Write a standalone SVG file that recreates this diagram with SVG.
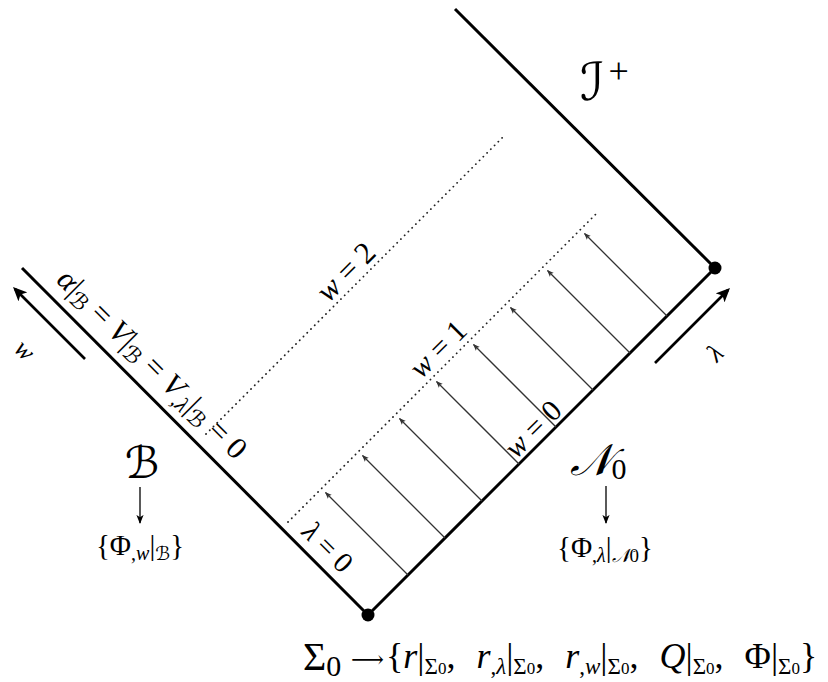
<svg xmlns="http://www.w3.org/2000/svg" width="828" height="682" viewBox="0 0 828 682">
<style>
.thick{stroke:#000;stroke-width:3;fill:none;stroke-linecap:butt}
.dot{stroke:#222;stroke-width:1.8;fill:none;stroke-linecap:round;stroke-dasharray:0.1 5.2}
.thin{stroke:#333;stroke-width:1.3;fill:none}
.med{stroke:#000;stroke-width:2.6;fill:none}
text{font-family:"Liberation Serif","DejaVu Serif",serif;fill:#000}
.i{font-style:italic}
.cal{font-family:"DejaVu Serif","DejaVu Sans",serif;font-style:italic}
</style>
<defs>
<marker id="ah" viewBox="0 0 10 10" refX="9" refY="5" markerWidth="7" markerHeight="7" markerUnits="userSpaceOnUse" orient="auto">
<path d="M0,1 L10,5 L0,9 L2.5,5 Z" fill="#333"/>
</marker>
<marker id="ahb" viewBox="0 0 10 10" refX="8" refY="5" markerWidth="14" markerHeight="14" markerUnits="userSpaceOnUse" orient="auto">
<path d="M0,0.5 L10,5 L0,9.5 L2.5,5 Z" fill="#000"/>
</marker>
<marker id="ahs" viewBox="0 0 10 10" refX="9" refY="5" markerWidth="9" markerHeight="9" markerUnits="userSpaceOnUse" orient="auto">
<path d="M0,1 L10,5 L0,9 L2.5,5 Z" fill="#000"/>
</marker>
</defs>

<g id="boundaries">
<line class="thick" x1="22" y1="268" x2="368" y2="615"/>
<line class="thick" x1="368" y1="615" x2="715" y2="268"/>
<line class="thick" x1="715" y1="268" x2="455" y2="9"/>
<circle cx="368" cy="615" r="6.5" fill="#000"/>
<circle cx="715" cy="268" r="6.5" fill="#000"/>
</g>

<g id="level-lines">
<line class="dot" x1="288" y1="522" x2="596" y2="214"/>
<line class="dot" x1="206" y1="434" x2="503" y2="137"/>
</g>

<g id="connectors">
<line class="thin" marker-end="url(#ah)" x1="408" y1="575" x2="325.5" y2="492.5"/>
<line class="thin" marker-end="url(#ah)" x1="445" y1="538" x2="362.5" y2="455.5"/>
<line class="thin" marker-end="url(#ah)" x1="482" y1="501" x2="399.5" y2="418.5"/>
<line class="thin" marker-end="url(#ah)" x1="519" y1="464" x2="436.5" y2="381.5"/>
<line class="thin" marker-end="url(#ah)" x1="556" y1="427" x2="473.5" y2="344.5"/>
<line class="thin" marker-end="url(#ah)" x1="593" y1="390" x2="510.5" y2="307.5"/>
<line class="thin" marker-end="url(#ah)" x1="630" y1="353" x2="547.5" y2="270.5"/>
<line class="thin" marker-end="url(#ah)" x1="667" y1="316" x2="584.5" y2="233.5"/>
<line class="med" marker-end="url(#ahb)" x1="85" y1="359" x2="15" y2="289"/>
<line class="med" marker-end="url(#ahb)" x1="655" y1="363" x2="728" y2="290"/>
<line class="thin" style="stroke:#000" marker-end="url(#ahs)" x1="140" y1="487" x2="140" y2="523"/>
<line class="thin" style="stroke:#000" marker-end="url(#ahs)" x1="606" y1="486" x2="606" y2="523"/>
</g>

<g id="labels">
<g transform="translate(145,371) rotate(45)">
<text font-size="31" text-anchor="middle"><tspan class="i">α</tspan>|<tspan class="cal" font-size="22" dy="5">ℬ</tspan><tspan dy="-5"> = </tspan><tspan class="i">V</tspan>|<tspan class="cal" font-size="22" dy="5">ℬ</tspan><tspan dy="-5"> = </tspan><tspan class="i">V</tspan><tspan font-size="22" dy="5">,<tspan class="i">λ</tspan></tspan><tspan dy="-5">|</tspan><tspan class="cal" font-size="22" dy="5">ℬ</tspan><tspan dy="-5"> = 0</tspan></text>
</g>
<g transform="translate(23,352) rotate(45)"><text font-size="26" class="i" text-anchor="middle" dy="6">w</text></g>
<g transform="translate(716,354) rotate(-45)"><text font-size="26" class="i" text-anchor="middle" dy="7">λ</text></g>
<g transform="translate(353,279) rotate(-45)"><text font-size="31" text-anchor="middle"><tspan class="i">w</tspan> = 2</text></g>
<g transform="translate(445,356) rotate(-45)"><text font-size="30" text-anchor="middle"><tspan class="i">w</tspan> = 1</text></g>
<g transform="translate(540,436) rotate(-45)"><text font-size="30" text-anchor="middle"><tspan class="i">w</tspan> = 0</text></g>
<g transform="translate(321,554) rotate(45)"><text font-size="29" text-anchor="middle"><tspan class="i">λ</tspan> = 0</text></g>
</g>

<g id="node-scri">
<text x="580" y="100" font-size="52" class="cal">ℐ<tspan font-style="normal" font-family="Liberation Serif" font-size="36" dx="4" dy="-17">+</tspan></text>
</g>
<g id="node-B">
<text x="142" y="478" font-size="44" class="cal" text-anchor="middle">ℬ</text>
<text x="140" y="555" font-size="29" text-anchor="middle">{Φ<tspan font-size="20" dy="5">,<tspan class="i">w</tspan></tspan><tspan dy="-5">|</tspan><tspan class="cal" font-size="19" dy="5">ℬ</tspan><tspan dy="-5">}</tspan></text>
</g>
<g id="node-N0">
<text x="598" y="475" font-size="44" class="cal" text-anchor="middle">𝒩<tspan font-style="normal" font-family="Liberation Serif" font-size="30" dy="4">0</tspan></text>
<text x="605" y="557" font-size="29" text-anchor="middle">{Φ<tspan font-size="20" dy="5">,<tspan class="i">λ</tspan></tspan><tspan dy="-5">|</tspan><tspan class="cal" font-size="19" dy="5">𝒩<tspan font-style="normal" font-family="Liberation Serif">0</tspan></tspan><tspan dy="-5">}</tspan></text>
</g>
<g id="node-Sigma0">
<text x="303" y="670" font-size="40">Σ<tspan font-size="30" dy="6">0</tspan></text>
<text x="351" y="667" font-size="23" font-family="DejaVu Sans">⟶</text>
<text x="386" y="668" font-size="36" word-spacing="12">{<tspan class="i">r</tspan>|<tspan font-size="23" dy="6">Σ<tspan font-size="17">0</tspan></tspan><tspan dy="-6">, </tspan><tspan class="i">r</tspan><tspan font-size="23" dy="6">,<tspan class="i">λ</tspan></tspan><tspan dy="-6">|</tspan><tspan font-size="23" dy="6">Σ<tspan font-size="17">0</tspan></tspan><tspan dy="-6">, </tspan><tspan class="i">r</tspan><tspan font-size="23" dy="6">,<tspan class="i">w</tspan></tspan><tspan dy="-6">|</tspan><tspan font-size="23" dy="6">Σ<tspan font-size="17">0</tspan></tspan><tspan dy="-6">, </tspan><tspan class="i">Q</tspan>|<tspan font-size="23" dy="6">Σ<tspan font-size="17">0</tspan></tspan><tspan dy="-6">, Φ|</tspan><tspan font-size="23" dy="6">Σ<tspan font-size="17">0</tspan></tspan><tspan dy="-6">}</tspan></text>
</g>
</svg>
